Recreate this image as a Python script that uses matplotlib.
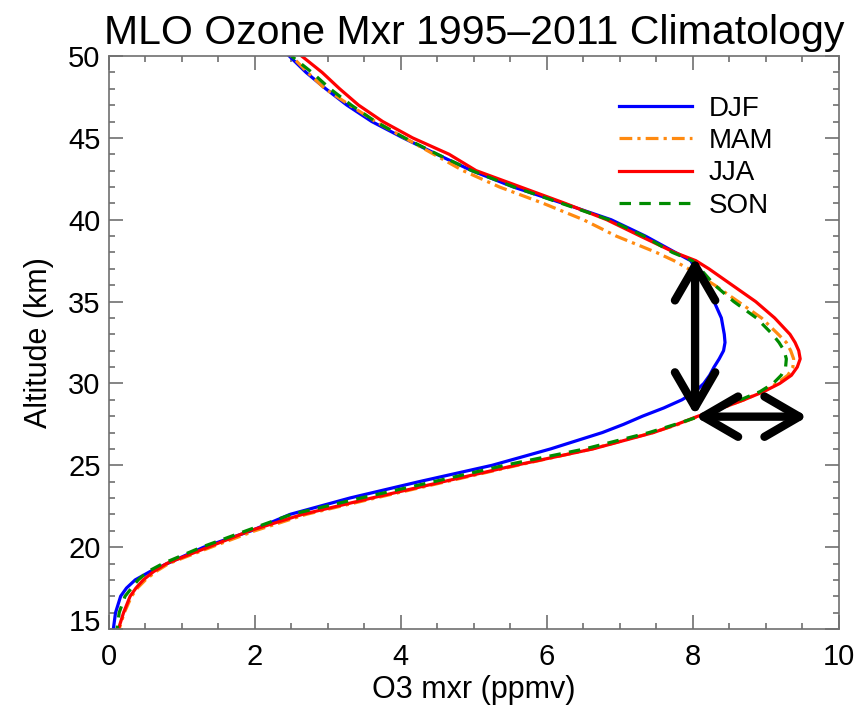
import matplotlib
matplotlib.use('Agg')
import matplotlib.pyplot as plt
import matplotlib.transforms as mtransforms

plt.rcParams['font.family'] = ['Liberation Sans', 'DejaVu Sans']

# altitude grid (km)
alt = [14.5, 15, 16, 17, 17.5, 18, 18.5, 19,
       20, 21, 22, 23, 24, 25, 26, 27,
       27.5, 28, 28.5, 29, 29.5, 30, 30.5, 31, 31.5, 32, 32.5, 33,
       34, 35, 36, 37, 37.5, 38,
       39, 40, 41, 42, 43, 44, 45, 46, 47, 48, 49, 50]

# ozone mixing ratio (ppmv) per season
djf = [0.06, 0.06, 0.09, 0.16, 0.24, 0.36, 0.56, 0.80,
       1.30, 1.95, 2.48, 3.30, 4.25, 5.25, 6.05, 6.76,
       7.05, 7.31, 7.60, 7.85, 8.03, 8.15, 8.23, 8.29, 8.36, 8.42, 8.44, 8.43,
       8.39, 8.29, 8.17, 8.04, 7.97, 7.76,
       7.35, 6.88, 6.22, 5.54, 4.97, 4.49, 4.03, 3.60, 3.26, 2.97, 2.70, 2.47]
mam = [0.13, 0.14, 0.21, 0.31, 0.39, 0.50, 0.64, 0.82,
       1.40, 2.00, 2.70, 3.65, 4.62, 5.60, 6.62, 7.45,
       7.80, 8.08, 8.40, 8.70, 8.95, 9.15, 9.30, 9.37, 9.38, 9.34, 9.28, 9.17,
       8.94, 8.62, 8.30, 7.94, 7.74, 7.50,
       6.95, 6.50, 5.95, 5.35, 4.85, 4.45, 4.05, 3.65, 3.30, 2.96, 2.72, 2.50]
jja = [0.12, 0.13, 0.20, 0.29, 0.37, 0.47, 0.61, 0.79,
       1.36, 1.93, 2.65, 3.60, 4.58, 5.57, 6.63, 7.46,
       7.78, 8.07, 8.40, 8.70, 8.97, 9.19, 9.35, 9.43, 9.47, 9.45, 9.40, 9.33,
       9.12, 8.86, 8.54, 8.22, 8.04, 7.75,
       7.28, 6.82, 6.25, 5.64, 5.03, 4.66, 4.16, 3.75, 3.42, 3.16, 2.92, 2.64]
son = [0.11, 0.11, 0.14, 0.22, 0.31, 0.40, 0.53, 0.74,
       1.27, 1.88, 2.50, 3.45, 4.45, 5.42, 6.52, 7.40,
       7.76, 8.10, 8.38, 8.65, 8.92, 9.10, 9.21, 9.27, 9.28, 9.25, 9.18, 9.09,
       8.87, 8.56, 8.30, 8.10, 7.99, 7.72,
       7.33, 6.85, 6.20, 5.55, 4.97, 4.50, 4.05, 3.65, 3.32, 3.03, 2.78, 2.50]

# arrow annotations (ppmv, km)
v_arrow = [(8.03, 28.05), (8.03, 37.7)]
h_arrow = [(8.03, 27.97), (9.57, 27.97)]

fig = plt.figure(figsize=(8.56, 7.12), dpi=100)
ax = fig.add_axes([0.1273, 0.1166, 0.8527, 0.8047])

lw = 2.3
ax.plot(djf, alt, color='#0000ff', lw=lw, label='DJF')
ax.plot(mam, alt, color='#ff8a10', lw=lw, dashes=(4, 1.6, 1, 1.6), label='MAM')
ax.plot(jja, alt, color='#ff0000', lw=lw, label='JJA')
ax.plot(son, alt, color='#008c00', lw=lw, dashes=(3.6, 2.6), label='SON')

for a in (v_arrow, h_arrow):
    ax.annotate('', xy=a[1], xytext=a[0],
                arrowprops=dict(arrowstyle='<->,head_length=2.5,head_width=1.45',
                                color='black', lw=6, mutation_scale=10,
                                shrinkA=0, shrinkB=0, capstyle='round',
                                joinstyle='round'))

ax.set_xlim(0, 10)
ax.set_ylim(15, 50)
ax.set_xticks([0, 2, 4, 6, 8, 10])
ax.set_xticks([x * 0.5 for x in range(21)], minor=True)
ax.set_yticks([15, 20, 25, 30, 35, 40, 45, 50])
ax.set_yticks(list(range(15, 51)), minor=True)
ax.tick_params(which='both', direction='in', top=True, right=True,
               color='#707070', labelsize=21)
ax.tick_params(which='major', length=10, width=1.2)
ax.tick_params(which='minor', length=4.5, width=1.2)
ax.tick_params(axis='x', which='major', pad=10)
ax.tick_params(axis='y', which='major', pad=6)
for s in ax.spines.values():
    s.set_color('#707070')
    s.set_linewidth(1.2)

ax.set_xlabel('O3 mxr (ppmv)', fontsize=22, labelpad=3)
ax.set_ylabel('Altitude (km)', fontsize=22, labelpad=10)
ax.set_title('MLO Ozone Mxr 1995\u20132011 Climatology', fontsize=29.5, pad=9)

ax.legend(loc='upper left', bbox_to_anchor=(0.699, 0.931), frameon=False,
          fontsize=20, handlelength=2.63, handletextpad=0.58,
          labelspacing=0.23, borderpad=0, borderaxespad=0)

fig.canvas.draw()
lab15 = ax.yaxis.get_major_ticks()[0].label1
lab15.set_transform(lab15.get_transform() +
                    mtransforms.ScaledTranslation(0, 6.5 / 72, fig.dpi_scale_trans))

fig.savefig('out.png', dpi=100)
